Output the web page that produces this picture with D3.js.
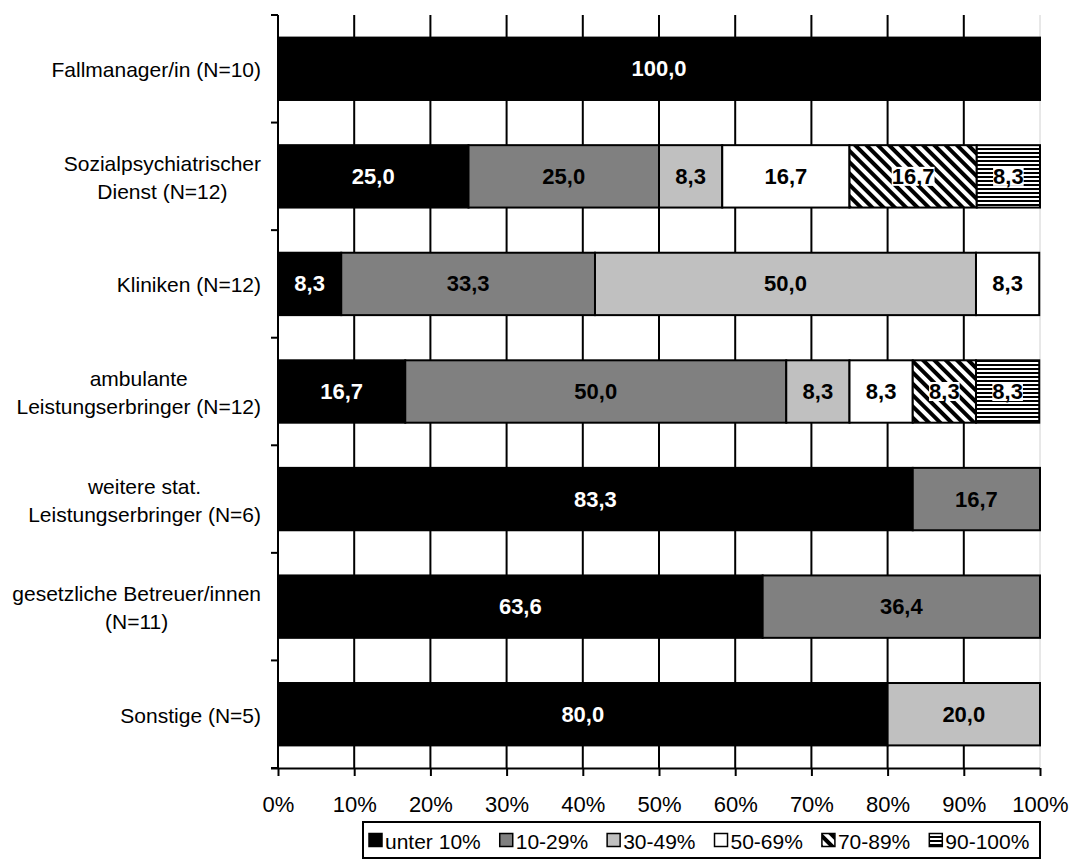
<!DOCTYPE html>
<html>
<head>
<meta charset="utf-8">
<script src="https://cdn.jsdelivr.net/npm/d3@7"></script>
<style>
  html, body { margin: 0; padding: 0; background: #fff; }
  svg { display: block; font-family: "Liberation Sans", Arial, sans-serif; }
</style>
</head>
<body>
<svg id="chart" width="1072" height="863"></svg>
<script>
// Categories (each label may wrap onto several lines)
const categories = [
  ["Fallmanager/in (N=10)"],
  ["Sozialpsychiatrischer", "Dienst (N=12)"],
  ["Kliniken (N=12)"],
  ["ambulante", "Leistungserbringer (N=12)"],
  ["weitere stat.", "Leistungserbringer (N=6)"],
  ["gesetzliche Betreuer/innen", "(N=11)"],
  ["Sonstige (N=5)"]
];

const seriesNames = ["unter 10%", "10-29%", "30-49%", "50-69%", "70-89%", "90-100%"];

// Percent shares per category, one array per series
const unter10  = [100.0, 25.0,  8.3, 16.7, 83.3, 63.6, 80.0];
const s10_29   = [  0.0, 25.0, 33.3, 50.0, 16.7, 36.4,  0.0];
const s30_49   = [  0.0,  8.3, 50.0,  8.3,  0.0,  0.0, 20.0];
const s50_69   = [  0.0, 16.7,  8.3,  8.3,  0.0,  0.0,  0.0];
const s70_89   = [  0.0, 16.7,  0.0,  8.3,  0.0,  0.0,  0.0];
const s90_100  = [  0.0,  8.3,  0.0,  8.3,  0.0,  0.0,  0.0];

const xTicks = [0, 10, 20, 30, 40, 50, 60, 70, 80, 90, 100];

const seriesValues = [unter10, s10_29, s30_49, s50_69, s70_89, s90_100];

const svg = d3.select("#chart");
const margin = { left: 278, right: 32, top: 15, bottom: 95 };
const W = 1072, H = 863;

const x = d3.scaleLinear().domain([0, 100]).range([margin.left, W - margin.right]);
const y = d3.scaleBand()
  .domain(d3.range(categories.length))
  .range([margin.top, H - margin.bottom])
  .paddingInner(0.42)
  .paddingOuter(0.21);

// Fill patterns
const defs = svg.append("defs");
const diag = defs.append("pattern")
  .attr("id", "pDiag").attr("patternUnits", "userSpaceOnUse")
  .attr("width", 8).attr("height", 8)
  .attr("patternTransform", "rotate(45)");
diag.append("rect").attr("width", 8).attr("height", 8).attr("fill", "#fff");
diag.append("rect").attr("width", 8).attr("height", 4).attr("fill", "#000");

const horiz = defs.append("pattern")
  .attr("id", "pHoriz").attr("patternUnits", "userSpaceOnUse")
  .attr("width", 4).attr("height", 4);
horiz.append("rect").attr("width", 4).attr("height", 4).attr("fill", "#fff");
horiz.append("rect").attr("width", 4).attr("height", 2).attr("fill", "#000");

const fills = ["#000000", "#808080", "#c0c0c0", "#ffffff", "url(#pDiag)", "url(#pHoriz)"];
const labelColors = ["#fff", "#000", "#000", "#000", "#000", "#000"];

// Vertical gridlines
svg.append("g").selectAll("line")
  .data(xTicks.filter(t => t > 0 && t < 100))
  .join("line")
  .attr("x1", d => x(d)).attr("x2", d => x(d))
  .attr("y1", margin.top).attr("y2", H - margin.bottom)
  .attr("stroke", "#000").attr("stroke-width", 2);

// Light frame line on the right of the plot area
svg.append("line")
  .attr("x1", x(100)).attr("x2", x(100))
  .attr("y1", margin.top).attr("y2", H - margin.bottom)
  .attr("stroke", "#d0d0d0").attr("stroke-width", 1);

// Stacked segments
const segs = [];
categories.forEach((c, i) => {
  let acc = 0;
  seriesValues.forEach((vals, s) => {
    const v = vals[i];
    if (v > 0) segs.push({ i, s, v, x0: acc, x1: acc + v });
    acc += v;
  });
});

const gBars = svg.append("g");
gBars.selectAll("rect")
  .data(segs)
  .join("rect")
  .attr("x", d => x(d.x0))
  .attr("width", d => x(d.x1) - x(d.x0))
  .attr("y", d => y(d.i))
  .attr("height", y.bandwidth())
  .attr("fill", d => fills[d.s])
  .attr("stroke", "#000")
  .attr("stroke-width", 2);

// Value labels
const fmt = v => v.toFixed(1).replace(".", ",");
const gLab = svg.append("g")
  .attr("font-size", 22).attr("font-weight", "bold");
segs.forEach(d => {
  const cx = (x(d.x0) + x(d.x1)) / 2;
  const cy = y(d.i) + y.bandwidth() / 2;
  const t = gLab.append("text")
    .attr("x", cx).attr("y", cy)
    .attr("text-anchor", "middle")
    .attr("dominant-baseline", "central")
    .attr("fill", labelColors[d.s])
    .text(fmt(d.v));
  if (d.s >= 4) {
    const bb = t.node().getBBox();
    gLab.insert("rect", () => t.node())
      .attr("x", bb.x).attr("y", bb.y + 3)
      .attr("width", bb.width).attr("height", bb.height - 6)
      .attr("fill", "#fff");
  }
});

// X axis
const xAxis = d3.axisBottom(x)
  .tickValues(xTicks)
  .tickFormat(d => d + "%")
  .tickSize(8);
const gx = svg.append("g")
  .attr("transform", `translate(0,${H - margin.bottom})`)
  .call(xAxis);
gx.select(".domain").attr("d", `M${margin.left - 7},0.5H${x(100)}`).attr("stroke-width", 2);
gx.selectAll(".tick line").attr("stroke-width", 2);
gx.selectAll(".tick text")
  .attr("y", 36).attr("dy", null)
  .attr("dominant-baseline", "central")
  .attr("font-size", 22).attr("font-family", "Liberation Sans, Arial, sans-serif").attr("fill", "#000");

// Y axis: line and ticks at category boundaries
const step = y.step();
const bounds = d3.range(categories.length + 1).map(k => margin.top + k * step);
svg.append("line")
  .attr("x1", margin.left).attr("x2", margin.left)
  .attr("y1", margin.top).attr("y2", H - margin.bottom)
  .attr("stroke", "#000").attr("stroke-width", 2);
svg.append("g").selectAll("line")
  .data(bounds)
  .join("line")
  .attr("x1", margin.left - 7).attr("x2", margin.left)
  .attr("y1", d => d).attr("y2", d => d)
  .attr("stroke", "#000").attr("stroke-width", 2);

// Category labels: lines centred on each other, block right-aligned to the axis
const gCat = svg.append("g").attr("font-size", 21).attr("fill", "#000");
categories.forEach((lines, i) => {
  const cy = y(i) + y.bandwidth() / 2 + 1;
  const lh = 28;
  const g = gCat.append("g");
  const texts = lines.map((ln, k) => g.append("text")
    .attr("y", cy + (k - (lines.length - 1) / 2) * lh)
    .attr("dominant-baseline", "central")
    .attr("text-anchor", "middle")
    .text(ln));
  const maxW = d3.max(texts, t => t.node().getComputedTextLength());
  texts.forEach(t => t.attr("x", margin.left - 17 - maxW / 2));
});

// Legend
const legX = 363, legY = 822, legW = 677, legH = 36;
const gLeg = svg.append("g");
gLeg.append("rect")
  .attr("x", legX).attr("y", legY).attr("width", legW).attr("height", legH)
  .attr("fill", "#fff").attr("stroke", "#000").attr("stroke-width", 2);
let lx = legX + 6;
seriesNames.forEach((name, s) => {
  gLeg.append("rect")
    .attr("x", lx).attr("y", legY + legH / 2 - 6.5)
    .attr("width", 13).attr("height", 13)
    .attr("fill", fills[s]).attr("stroke", "#000").attr("stroke-width", 1.5);
  const t = gLeg.append("text")
    .attr("x", lx + 16).attr("y", legY + legH / 2 + 1)
    .attr("dominant-baseline", "central")
    .attr("font-size", 21)
    .text(name);
  lx += 16 + t.node().getComputedTextLength() + 19;
});
</script>
</body>
</html>
